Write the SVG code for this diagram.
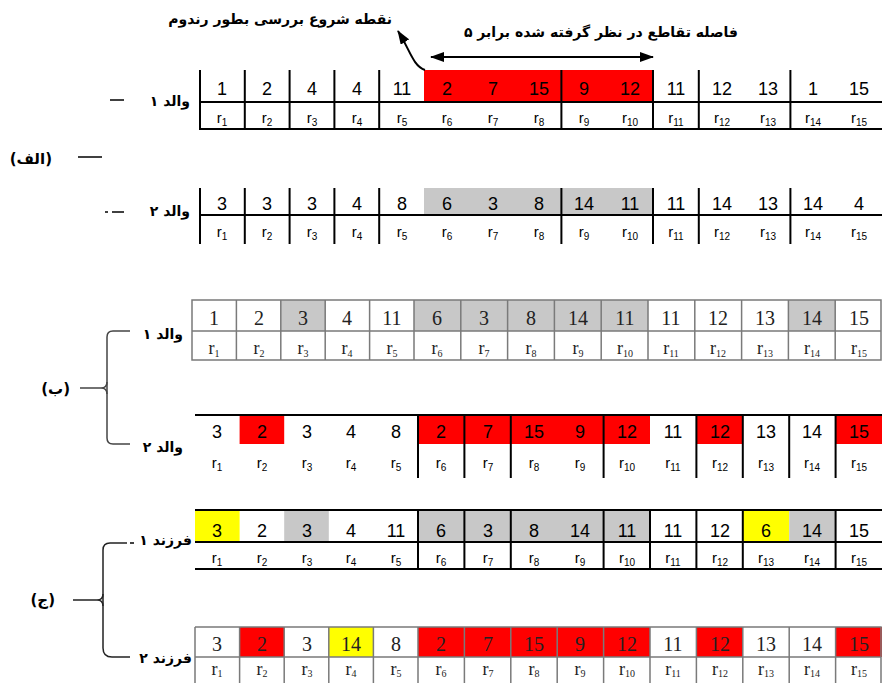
<svg xmlns="http://www.w3.org/2000/svg" width="882" height="683" viewBox="0 0 882 683">
<style>
.v{font-family:"Liberation Sans",Arial,sans-serif;font-size:18px;text-anchor:middle;fill:#000}
.vs{font-family:"Liberation Serif","Times New Roman",serif;font-size:20px;text-anchor:middle;fill:#222}
.r{font-family:"Liberation Sans",Arial,sans-serif;font-size:15px;text-anchor:middle;fill:#000}
.rs{font-family:"Liberation Serif","Times New Roman",serif;font-size:18px;text-anchor:middle;fill:#222}
.sub{font-size:10px}
.fa{font-family:"DejaVu Sans","Noto Sans",sans-serif;font-size:14px;font-weight:bold;text-anchor:end;fill:#000}
.fb{font-family:"DejaVu Sans","Noto Sans",sans-serif;font-size:15px;font-weight:bold;text-anchor:end;fill:#000}
.ln{stroke:#000;stroke-width:2;fill:none}
.lg{stroke:#7a7a7a;stroke-width:1.5;fill:none}
.red{fill:#ff0000}
.gray{fill:#c8c8c8}
.yel{fill:#ffff00}
</style>
<defs>
<marker id="ah" viewBox="0 0 14 10" refX="13" refY="5" markerWidth="14" markerHeight="10" markerUnits="userSpaceOnUse" orient="auto-start-reverse">
<path d="M0,0 L14,5 L0,10 z" fill="#000"/>
</marker>
</defs>

<!-- Annotations -->
<g id="annot-start">
<text class="fa" x="392" y="24" font-weight="normal">نقطه شروع بررسی بطور رندوم</text>
</g>
<g id="annot-distance">
<text class="fa" x="738" y="37" font-weight="normal">فاصله تقاطع در نظر گرفته شده برابر ۵</text>
</g>

<!-- Section labels -->
<g id="label-alef"><text class="fb" x="52" y="164">(الف)</text></g>
<g id="label-be"><text class="fb" x="70" y="394">(ب)</text></g>
<g id="label-jim"><text class="fb" x="55" y="605">(ج)</text></g>

<g id="label-a1"><text class="fa" x="190" y="106">والد ۱</text></g>
<g id="label-a2"><text class="fa" x="190" y="216">والد ۲</text></g>
<g id="label-b1"><text class="fa" x="183" y="339">والد ۱</text></g>
<g id="label-b2"><text class="fa" x="183" y="452">والد ۲</text></g>
<g id="label-c1"><text class="fa" x="192" y="545">فرزند ۱</text></g>
<g id="label-c2"><text class="fa" x="192" y="663">فرزند ۲</text></g>

<!-- Row A1 -->
<g id="row-a1">
<rect class="red" x="424" y="70" width="229" height="31"/>
<path class="ln" d="M200,102H882M200,129H882M200,70V130M244.8,70V130M289.6,70V130M334.4,70V130M379.2,70V130M561.4,70V130M653,70V130M698.8,70V130M790.4,70V130"/>
<text class="v" x="222" y="95">1</text><text class="v" x="267" y="95">2</text><text class="v" x="312" y="95">4</text><text class="v" x="357" y="95">4</text><text class="v" x="402" y="95">11</text>
<text class="v" x="447" y="95">2</text><text class="v" x="493" y="95">7</text><text class="v" x="539" y="95">15</text><text class="v" x="584" y="95">9</text><text class="v" x="630" y="95">12</text>
<text class="v" x="676" y="95">11</text><text class="v" x="722" y="95">12</text><text class="v" x="768" y="95">13</text><text class="v" x="813" y="95">1</text><text class="v" x="859" y="95">15</text>
<text class="r" x="222" y="123">r<tspan class="sub" dy="3">1</tspan></text><text class="r" x="267" y="123">r<tspan class="sub" dy="3">2</tspan></text><text class="r" x="312" y="123">r<tspan class="sub" dy="3">3</tspan></text><text class="r" x="357" y="123">r<tspan class="sub" dy="3">4</tspan></text><text class="r" x="402" y="123">r<tspan class="sub" dy="3">5</tspan></text>
<text class="r" x="447" y="123">r<tspan class="sub" dy="3">6</tspan></text><text class="r" x="493" y="123">r<tspan class="sub" dy="3">7</tspan></text><text class="r" x="539" y="123">r<tspan class="sub" dy="3">8</tspan></text><text class="r" x="584" y="123">r<tspan class="sub" dy="3">9</tspan></text><text class="r" x="630" y="123">r<tspan class="sub" dy="3">10</tspan></text>
<text class="r" x="676" y="123">r<tspan class="sub" dy="3">11</tspan></text><text class="r" x="722" y="123">r<tspan class="sub" dy="3">12</tspan></text><text class="r" x="768" y="123">r<tspan class="sub" dy="3">13</tspan></text><text class="r" x="813" y="123">r<tspan class="sub" dy="3">14</tspan></text><text class="r" x="859" y="123">r<tspan class="sub" dy="3">15</tspan></text>
</g>

<!-- Row A2 -->
<g id="row-a2">
<rect class="gray" x="424" y="188" width="229" height="27"/>
<path class="ln" d="M200,215H882M200,188V244M244.8,188V244M289.6,188V244M334.4,188V244M379.2,188V244M561.4,188V244M653,188V244M698.8,188V244M790.4,188V244"/>
<text class="v" x="222" y="210">3</text><text class="v" x="267" y="210">3</text><text class="v" x="312" y="210">3</text><text class="v" x="357" y="210">4</text><text class="v" x="402" y="210">8</text>
<text class="v" x="447" y="210">6</text><text class="v" x="493" y="210">3</text><text class="v" x="539" y="210">8</text><text class="v" x="584" y="210">14</text><text class="v" x="630" y="210">11</text>
<text class="v" x="676" y="210">11</text><text class="v" x="722" y="210">14</text><text class="v" x="768" y="210">13</text><text class="v" x="813" y="210">14</text><text class="v" x="859" y="210">4</text>
<text class="r" x="222" y="237">r<tspan class="sub" dy="3">1</tspan></text><text class="r" x="267" y="237">r<tspan class="sub" dy="3">2</tspan></text><text class="r" x="312" y="237">r<tspan class="sub" dy="3">3</tspan></text><text class="r" x="357" y="237">r<tspan class="sub" dy="3">4</tspan></text><text class="r" x="402" y="237">r<tspan class="sub" dy="3">5</tspan></text>
<text class="r" x="447" y="237">r<tspan class="sub" dy="3">6</tspan></text><text class="r" x="493" y="237">r<tspan class="sub" dy="3">7</tspan></text><text class="r" x="539" y="237">r<tspan class="sub" dy="3">8</tspan></text><text class="r" x="584" y="237">r<tspan class="sub" dy="3">9</tspan></text><text class="r" x="630" y="237">r<tspan class="sub" dy="3">10</tspan></text>
<text class="r" x="676" y="237">r<tspan class="sub" dy="3">11</tspan></text><text class="r" x="722" y="237">r<tspan class="sub" dy="3">12</tspan></text><text class="r" x="768" y="237">r<tspan class="sub" dy="3">13</tspan></text><text class="r" x="813" y="237">r<tspan class="sub" dy="3">14</tspan></text><text class="r" x="859" y="237">r<tspan class="sub" dy="3">15</tspan></text>
</g>

<!-- Row B1 -->
<g id="row-b1">
<rect class="gray" x="280.8" y="300" width="44.4" height="31"/>
<rect class="gray" x="414" y="300" width="234" height="31"/>
<rect class="gray" x="788.4" y="300" width="46.8" height="31"/>
<path class="lg" d="M192,300H881V360H192zM192,331H881M236.4,300V360M280.8,300V360M325.2,300V360M369.6,300V360M414,300V360M460.8,300V360M507.6,300V360M554.4,300V360M601.2,300V360M648,300V360M694.8,300V360M741.6,300V360M788.4,300V360M835.2,300V360"/>
<text class="vs" x="214" y="325">1</text><text class="vs" x="259" y="325">2</text><text class="vs" x="303" y="325">3</text><text class="vs" x="347" y="325">4</text><text class="vs" x="392" y="325">11</text>
<text class="vs" x="437" y="325">6</text><text class="vs" x="484" y="325">3</text><text class="vs" x="531" y="325">8</text><text class="vs" x="578" y="325">14</text><text class="vs" x="625" y="325">11</text>
<text class="vs" x="671" y="325">11</text><text class="vs" x="718" y="325">12</text><text class="vs" x="765" y="325">13</text><text class="vs" x="812" y="325">14</text><text class="vs" x="859" y="325">15</text>
<text class="rs" x="214" y="354">r<tspan class="sub" dy="3">1</tspan></text><text class="rs" x="259" y="354">r<tspan class="sub" dy="3">2</tspan></text><text class="rs" x="303" y="354">r<tspan class="sub" dy="3">3</tspan></text><text class="rs" x="347" y="354">r<tspan class="sub" dy="3">4</tspan></text><text class="rs" x="392" y="354">r<tspan class="sub" dy="3">5</tspan></text>
<text class="rs" x="437" y="354">r<tspan class="sub" dy="3">6</tspan></text><text class="rs" x="484" y="354">r<tspan class="sub" dy="3">7</tspan></text><text class="rs" x="531" y="354">r<tspan class="sub" dy="3">8</tspan></text><text class="rs" x="578" y="354">r<tspan class="sub" dy="3">9</tspan></text><text class="rs" x="625" y="354">r<tspan class="sub" dy="3">10</tspan></text>
<text class="rs" x="671" y="354">r<tspan class="sub" dy="3">11</tspan></text><text class="rs" x="718" y="354">r<tspan class="sub" dy="3">12</tspan></text><text class="rs" x="765" y="354">r<tspan class="sub" dy="3">13</tspan></text><text class="rs" x="812" y="354">r<tspan class="sub" dy="3">14</tspan></text><text class="rs" x="859" y="354">r<tspan class="sub" dy="3">15</tspan></text>
</g>

<!-- Row B2 -->
<g id="row-b2">
<rect class="red" x="239.6" y="415" width="44.6" height="29"/>
<rect class="red" x="418" y="415" width="232" height="29"/>
<rect class="red" x="696.4" y="415" width="46.4" height="29"/>
<rect class="red" x="835.6" y="415" width="46.4" height="29"/>
<path class="ln" d="M195,415H882M418,415V478M464.4,415V478M510.8,415V478M603.6,415V478M696.4,415V478M742.8,415V478M789.2,415V478M835.6,415V478"/>
<text class="v" x="217" y="438">3</text><text class="v" x="262" y="438">2</text><text class="v" x="307" y="438">3</text><text class="v" x="351" y="438">4</text><text class="v" x="396" y="438">8</text>
<text class="v" x="441" y="438">2</text><text class="v" x="488" y="438">7</text><text class="v" x="534" y="438">15</text><text class="v" x="580" y="438">9</text><text class="v" x="627" y="438">12</text>
<text class="v" x="673" y="438">11</text><text class="v" x="720" y="438">12</text><text class="v" x="766" y="438">13</text><text class="v" x="812" y="438">14</text><text class="v" x="859" y="438">15</text>
<text class="r" x="217" y="468">r<tspan class="sub" dy="3">1</tspan></text><text class="r" x="262" y="468">r<tspan class="sub" dy="3">2</tspan></text><text class="r" x="307" y="468">r<tspan class="sub" dy="3">3</tspan></text><text class="r" x="351" y="468">r<tspan class="sub" dy="3">4</tspan></text><text class="r" x="396" y="468">r<tspan class="sub" dy="3">5</tspan></text>
<text class="r" x="441" y="468">r<tspan class="sub" dy="3">6</tspan></text><text class="r" x="488" y="468">r<tspan class="sub" dy="3">7</tspan></text><text class="r" x="534" y="468">r<tspan class="sub" dy="3">8</tspan></text><text class="r" x="580" y="468">r<tspan class="sub" dy="3">9</tspan></text><text class="r" x="627" y="468">r<tspan class="sub" dy="3">10</tspan></text>
<text class="r" x="673" y="468">r<tspan class="sub" dy="3">11</tspan></text><text class="r" x="720" y="468">r<tspan class="sub" dy="3">12</tspan></text><text class="r" x="766" y="468">r<tspan class="sub" dy="3">13</tspan></text><text class="r" x="812" y="468">r<tspan class="sub" dy="3">14</tspan></text><text class="r" x="859" y="468">r<tspan class="sub" dy="3">15</tspan></text>
</g>

<!-- Row C1 -->
<g id="row-c1">
<rect class="yel" x="195" y="510" width="44.6" height="32"/>
<rect class="gray" x="284.2" y="510" width="44.6" height="32"/>
<rect class="gray" x="418" y="510" width="232" height="32"/>
<rect class="yel" x="742.8" y="510" width="46.4" height="32"/>
<rect class="gray" x="789.2" y="510" width="46.4" height="32"/>
<path class="ln" d="M195,510H882M195,542H882M195,569H882M418,510V569M464.4,510V569M510.8,510V569M603.6,510V569M650,510V569M696.4,510V569M742.8,510V569M835.6,510V569"/>
<text class="v" x="217" y="537">3</text><text class="v" x="262" y="537">2</text><text class="v" x="307" y="537">3</text><text class="v" x="351" y="537">4</text><text class="v" x="396" y="537">11</text>
<text class="v" x="441" y="537">6</text><text class="v" x="488" y="537">3</text><text class="v" x="534" y="537">8</text><text class="v" x="580" y="537">14</text><text class="v" x="627" y="537">11</text>
<text class="v" x="673" y="537">11</text><text class="v" x="720" y="537">12</text><text class="v" x="766" y="537">6</text><text class="v" x="812" y="537">14</text><text class="v" x="859" y="537">15</text>
<text class="r" x="217" y="563">r<tspan class="sub" dy="3">1</tspan></text><text class="r" x="262" y="563">r<tspan class="sub" dy="3">2</tspan></text><text class="r" x="307" y="563">r<tspan class="sub" dy="3">3</tspan></text><text class="r" x="351" y="563">r<tspan class="sub" dy="3">4</tspan></text><text class="r" x="396" y="563">r<tspan class="sub" dy="3">5</tspan></text>
<text class="r" x="441" y="563">r<tspan class="sub" dy="3">6</tspan></text><text class="r" x="488" y="563">r<tspan class="sub" dy="3">7</tspan></text><text class="r" x="534" y="563">r<tspan class="sub" dy="3">8</tspan></text><text class="r" x="580" y="563">r<tspan class="sub" dy="3">9</tspan></text><text class="r" x="627" y="563">r<tspan class="sub" dy="3">10</tspan></text>
<text class="r" x="673" y="563">r<tspan class="sub" dy="3">11</tspan></text><text class="r" x="720" y="563">r<tspan class="sub" dy="3">12</tspan></text><text class="r" x="766" y="563">r<tspan class="sub" dy="3">13</tspan></text><text class="r" x="812" y="563">r<tspan class="sub" dy="3">14</tspan></text><text class="r" x="859" y="563">r<tspan class="sub" dy="3">15</tspan></text>
</g>

<!-- Row C2 -->
<g id="row-c2">
<rect class="red" x="239.6" y="627" width="44.6" height="30"/>
<rect class="yel" x="328.8" y="627" width="44.6" height="30"/>
<rect class="red" x="418" y="627" width="232" height="30"/>
<rect class="red" x="696.4" y="627" width="46.4" height="30"/>
<rect class="red" x="835.6" y="627" width="46.4" height="30"/>
<path class="lg" d="M195,627H881V690M195,627V690M195,657H881M239.6,627V690M284.2,627V690M328.8,627V690M373.4,627V690M418,627V690M464.4,627V690M510.8,627V690M557.2,627V690M603.6,627V690M650,627V690M696.4,627V690M742.8,627V690M789.2,627V690M835.6,627V690"/>
<text class="vs" x="217" y="651">3</text><text class="vs" x="262" y="651">2</text><text class="vs" x="307" y="651">3</text><text class="vs" x="351" y="651">14</text><text class="vs" x="396" y="651">8</text>
<text class="vs" x="441" y="651">2</text><text class="vs" x="488" y="651">7</text><text class="vs" x="534" y="651">15</text><text class="vs" x="580" y="651">9</text><text class="vs" x="627" y="651">12</text>
<text class="vs" x="673" y="651">11</text><text class="vs" x="720" y="651">12</text><text class="vs" x="766" y="651">13</text><text class="vs" x="812" y="651">14</text><text class="vs" x="859" y="651">15</text>
<text class="rs" x="217" y="675">r<tspan class="sub" dy="2">1</tspan></text><text class="rs" x="262" y="675">r<tspan class="sub" dy="2">2</tspan></text><text class="rs" x="307" y="675">r<tspan class="sub" dy="2">3</tspan></text><text class="rs" x="351" y="675">r<tspan class="sub" dy="2">4</tspan></text><text class="rs" x="396" y="675">r<tspan class="sub" dy="2">5</tspan></text>
<text class="rs" x="441" y="675">r<tspan class="sub" dy="2">6</tspan></text><text class="rs" x="488" y="675">r<tspan class="sub" dy="2">7</tspan></text><text class="rs" x="534" y="675">r<tspan class="sub" dy="2">8</tspan></text><text class="rs" x="580" y="675">r<tspan class="sub" dy="2">9</tspan></text><text class="rs" x="627" y="675">r<tspan class="sub" dy="2">10</tspan></text>
<text class="rs" x="673" y="675">r<tspan class="sub" dy="2">11</tspan></text><text class="rs" x="720" y="675">r<tspan class="sub" dy="2">12</tspan></text><text class="rs" x="766" y="675">r<tspan class="sub" dy="2">13</tspan></text><text class="rs" x="812" y="675">r<tspan class="sub" dy="2">14</tspan></text><text class="rs" x="859" y="675">r<tspan class="sub" dy="2">15</tspan></text>
</g>

<!-- Connectors -->
<g id="connectors">
<path class="ln" d="M425,70 C413,66 410,50 398,31" marker-end="url(#ah)"/>
<line class="ln" x1="431" y1="57" x2="653" y2="57" marker-start="url(#ah)" marker-end="url(#ah)"/>
<line x1="110" y1="100" x2="124" y2="100" stroke="#000" stroke-width="1.5"/>
<line x1="78" y1="157" x2="102" y2="157" stroke="#000" stroke-width="1.5"/>
<line x1="105" y1="212" x2="108" y2="212" stroke="#000" stroke-width="1.5"/>
<line x1="112" y1="212" x2="124" y2="212" stroke="#000" stroke-width="1.5"/>
<path d="M130,331 H113 Q107,331 107,337 V438 Q107,444 113,444 H130" fill="none" stroke="#444" stroke-width="1.5"/>
<path d="M80,388 H101 Q107,388 107,382 M101,388 Q107,388 107,394" fill="none" stroke="#444" stroke-width="1.5"/>
<path d="M127,543 H110 Q103,543 103,550 V648 Q103,657 112,657 H130" fill="none" stroke="#222" stroke-width="1.5"/>
<path d="M73,600 H97 Q103,600 103,594 M97,600 Q103,600 103,606" fill="none" stroke="#222" stroke-width="1.5"/>
<line x1="130" y1="543" x2="134" y2="543" stroke="#000" stroke-width="1.5"/>
</g>
</svg>
